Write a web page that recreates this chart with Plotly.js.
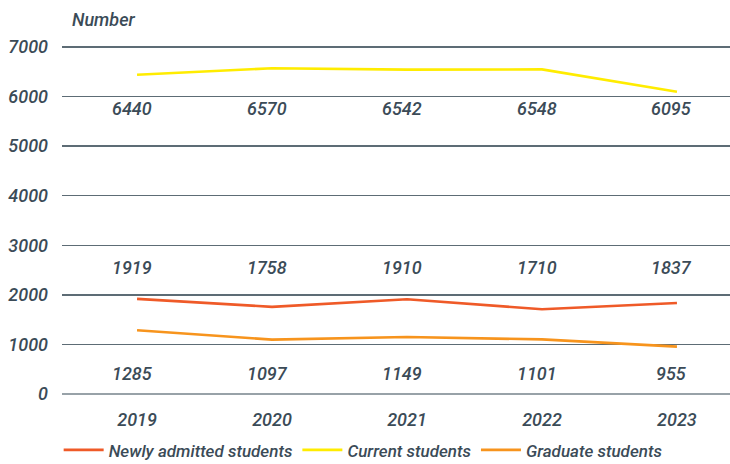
<!DOCTYPE html>
<html>
<head>
<meta charset="utf-8">
<script src="https://cdn.plot.ly/plotly-3.0.1.min.js"></script>
<style>html,body{margin:0;padding:0;background:#fff;}#chart{width:730px;height:464px;}</style>
</head>
<body>
<div id="chart"></div>
<script>
var years = ['2019', '2020', '2021', '2022', '2023'];
var newlyAdmitted = [1919, 1758, 1910, 1710, 1837];
var currentStudents = [6440, 6570, 6542, 6548, 6095];
var graduateStudents = [1285, 1097, 1149, 1101, 955];
var seriesNames = ['Newly admitted students', 'Current students', 'Graduate students'];
var yTicks = [0, 1000, 2000, 3000, 4000, 5000, 6000, 7000];

var FONT = 'Roboto, sans-serif';
var TXT = '#3b4b57';
var colors = ['#ef5a28', '#ffec00', '#f7941d'];
function f(sz) { return {family: FONT, size: sz, color: TXT, style: 'italic', weight: 500}; }

var allSeries = [newlyAdmitted, currentStudents, graduateStudents];
var traces = allSeries.map(function (vals, i) {
  return {
    x: years, y: vals, name: seriesNames[i], type: 'scatter', mode: 'lines',
    line: {color: colors[i], width: 2.6}, hoverinfo: 'skip'
  };
});

// value label rows (paper fractions)
var rows = [0.358, 0.8125, 0.057];
var annotations = [];
allSeries.forEach(function (vals, i) {
  vals.forEach(function (v, j) {
    annotations.push({
      x: j, y: rows[i], xref: 'x', yref: 'paper', text: String(v),
      showarrow: false, xshift: -5, xanchor: 'center', yanchor: 'middle',
      font: f(18)
    });
  });
});

var layout = {
  width: 730, height: 464,
  margin: {l: 62, r: 0, t: 42, b: 70, autoexpand: false},
  paper_bgcolor: '#ffffff', plot_bgcolor: '#ffffff',
  font: f(18),
  title: {
    text: 'Number', xref: 'container', yref: 'container', x: 72 / 730, xanchor: 'left',
    y: 1 - 20 / 464, yanchor: 'middle', font: f(18)
  },
  xaxis: {
    type: 'category', range: [-0.556, 4.393], showgrid: false, zeroline: false,
    showline: false, ticks: '', ticklabelstandoff: 13,
    tickfont: f(18), fixedrange: true
  },
  yaxis: {
    range: [0, 7100], tickmode: 'array', tickvals: yTicks,
    ticktext: yTicks.map(String), showgrid: true, gridcolor: '#5d6c75', gridwidth: 1.3,
    zeroline: true, zerolinecolor: '#98a2a8', zerolinewidth: 2.5, showline: false, ticks: '',
    ticklabelstandoff: 13,
    tickfont: f(18), fixedrange: true
  },
  showlegend: true,
  legend: {
    orientation: 'h', x: -0.005, xanchor: 'left', y: -0.16, yanchor: 'middle',
    font: f(17), itemwidth: 40, tracegroupgap: 0, traceorder: 'normal'
  },
  annotations: annotations
};

Plotly.newPlot('chart', traces, layout, {displayModeBar: false, staticPlot: true});
</script>
</body>
</html>
